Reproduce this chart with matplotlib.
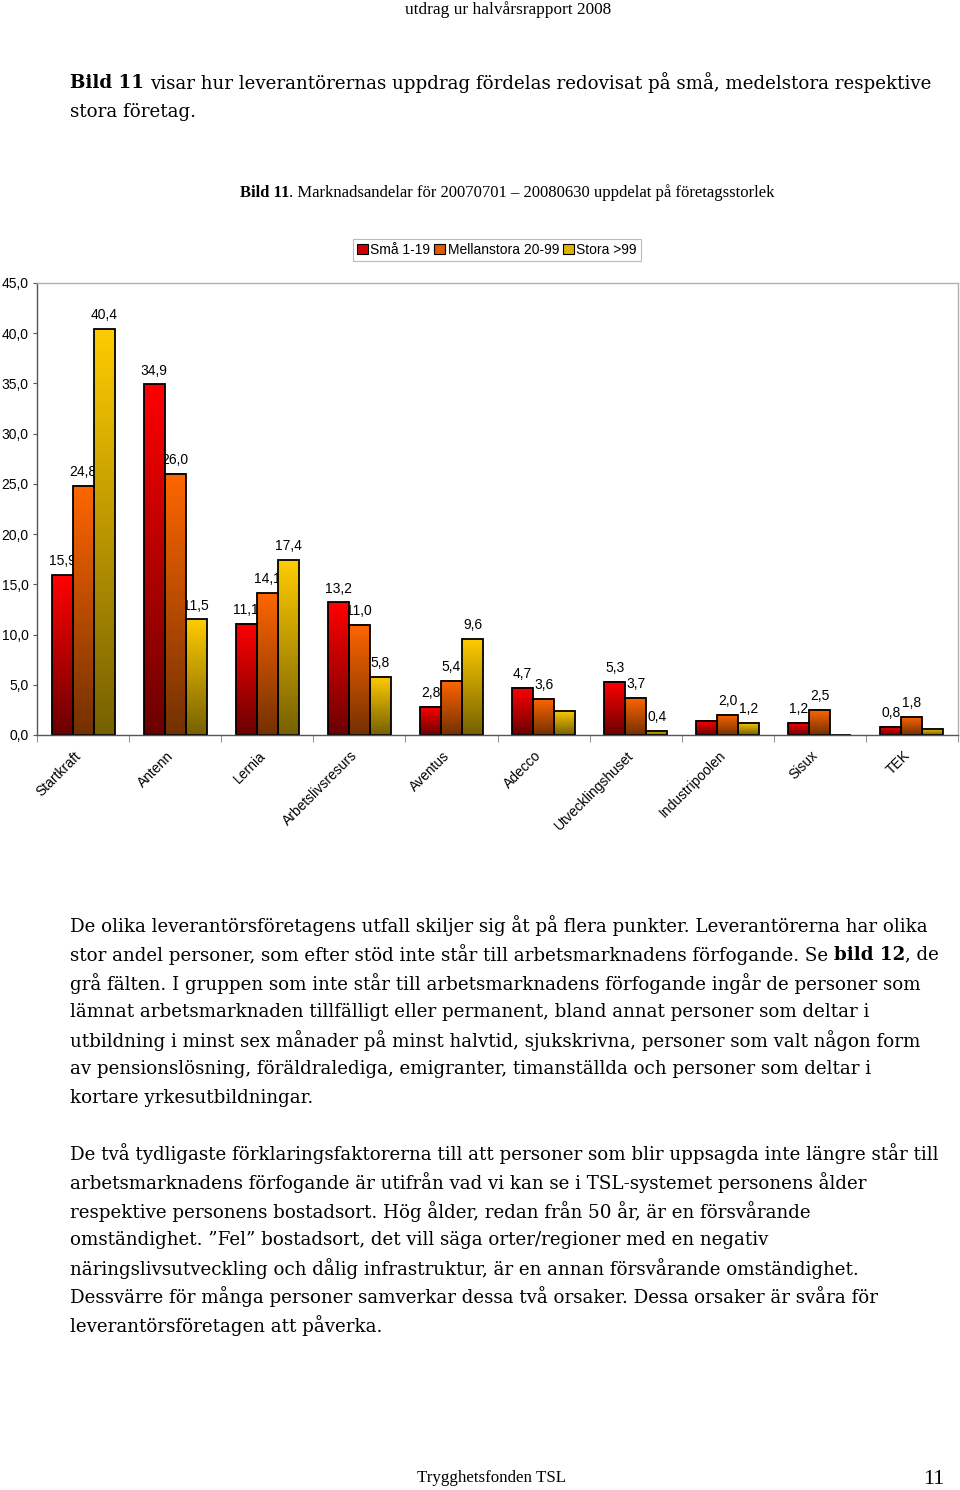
import matplotlib
matplotlib.use('Agg')
import matplotlib.pyplot as plt
import numpy as np
from matplotlib.font_manager import FontProperties
from matplotlib.patches import Rectangle
from matplotlib.colors import LinearSegmentedColormap

# ---------------- data ----------------
categories = ["Startkraft", "Antenn", "Lernia", "Arbetslivsresurs", "Aventus",
              "Adecco", "Utvecklingshuset", "Industripoolen", "Sisux", "TEK"]
series_names = ["Små 1-19", "Mellanstora 20-99", "Stora >99"]
sma = [15.9, 34.9, 11.1, 13.2, 2.8, 4.7, 5.3, 1.4, 1.2, 0.8]
mellan = [24.8, 26.0, 14.1, 11.0, 5.4, 3.6, 3.7, 2.0, 2.5, 1.8]
stora = [40.4, 11.5, 17.4, 5.8, 9.6, 2.4, 0.4, 1.2, 0.0, 0.6]
# which value labels are visible in the original
sma_lab = [1, 1, 1, 1, 1, 1, 1, 0, 1, 1]
mellan_lab = [1, 1, 1, 1, 1, 1, 1, 1, 1, 1]
stora_lab = [1, 1, 1, 1, 1, 0, 1, 1, 0, 0]
yticks = [0, 5, 10, 15, 20, 25, 30, 35, 40, 45]

header = "utdrag ur halvårsrapport 2008"
intro = [[("Bild 11", "bold"), (" visar hur leverantörernas uppdrag fördelas redovisat på små, medelstora respektive", "normal")],
         [("stora företag.", "normal")]]
caption = [("Bild 11", "bold"), (". Marknadsandelar för 20070701 – 20080630 uppdelat på företagsstorlek", "normal")]
para2 = [[("De olika leverantörsföretagens utfall skiljer sig åt på flera punkter. Leverantörerna har olika", "normal")],
         [("stor andel personer, som efter stöd inte står till arbetsmarknadens förfogande. Se ", "normal"), ("bild 12", "bold"), (", de", "normal")],
         [("grå fälten. I gruppen som inte står till arbetsmarknadens förfogande ingår de personer som", "normal")],
         [("lämnat arbetsmarknaden tillfälligt eller permanent, bland annat personer som deltar i", "normal")],
         [("utbildning i minst sex månader på minst halvtid, sjukskrivna, personer som valt någon form", "normal")],
         [("av pensionslösning, föräldralediga, emigranter, timanställda och personer som deltar i", "normal")],
         [("kortare yrkesutbildningar.", "normal")]]
para3 = [[("De två tydligaste förklaringsfaktorerna till att personer som blir uppsagda inte längre står till", "normal")],
         [("arbetsmarknadens förfogande är utifrån vad vi kan se i TSL-systemet personens ålder", "normal")],
         [("respektive personens bostadsort. Hög ålder, redan från 50 år, är en försvårande", "normal")],
         [("omständighet. ”Fel” bostadsort, det vill säga orter/regioner med en negativ", "normal")],
         [("näringslivsutveckling och dålig infrastruktur, är en annan försvårande omständighet.", "normal")],
         [("Dessvärre för många personer samverkar dessa två orsaker. Dessa orsaker är svåra för", "normal")],
         [("leverantörsföretagen att påverka.", "normal")]]
footer = "Trygghetsfonden TSL"
page_no = "11"

# ---------------- figure ----------------
W, H = 960, 1490
fig = plt.figure(figsize=(W / 100, H / 100), dpi=100)
fig.patch.set_facecolor('white')
renderer = fig.canvas.get_renderer()

BODY = 'DejaVu Serif'
SMALL = 'Liberation Serif'
SANS = 'Liberation Sans'
CFS = 10  # chart font size


def text_width(s, size, family, weight='normal'):
    fp = FontProperties(family=family, size=size, weight=weight)
    w1, _, _ = renderer.get_text_width_height_descent('|' + s + '|', fp, ismath=False)
    w2, _, _ = renderer.get_text_width_height_descent('||', fp, ismath=False)
    return w1 - w2


def segs_width(segs, size, family):
    return sum(text_width(s, size, family, w) for s, w in segs)


def fit_size(segs, target, family):
    return 10 * target / segs_width(segs, 10, family)


def draw_segs(x_px, y_px, segs, size, family):
    x = x_px
    for s, wt in segs:
        stripped = s.lstrip(' ')
        lead = len(s) - len(stripped)
        if lead:
            x += text_width(' ' * lead, size, family, wt)
        fig.text(x / W, 1 - y_px / H, stripped, fontsize=size, family=family,
                 fontweight=wt, ha='left', va='center', color='black')
        x += text_width(stripped, size, family, wt)


# header / caption / footer
hs = fit_size([(header, 'normal')], 206, SMALL)
draw_segs(405, 10, [(header, 'normal')], hs, SMALL)
cs = fit_size(caption, 536, SMALL)
draw_segs(240, 193, caption, cs, SMALL)
fs = fit_size([(footer, 'normal')], 148, SMALL)
draw_segs(417, 1478, [(footer, 'normal')], fs, SMALL)
fig.text(944 / W, 1 - 1480 / H, page_no, fontsize=16, family=SMALL, ha='right', va='center')

# body text
bs = fit_size(para3[0], 873, BODY)
for i, line in enumerate(intro):
    draw_segs(70, 83 + i * 28.6, line, bs, BODY)
for i, line in enumerate(para2):
    draw_segs(70, 926 + i * 28.6, line, bs, BODY)
for i, line in enumerate(para3):
    draw_segs(70, 1154 + i * 28.6, line, bs, BODY)

# ---------------- chart ----------------
ax = fig.add_axes([37 / W, 1 - 735 / H, (958 - 37) / W, (735 - 283) / H])
ax.set_facecolor('white')

bright = ['#FF0000', '#FF6600', '#FFCC00']
dark = ['#6A0000', '#733000', '#766000']
data = [sma, mellan, stora]
labs = [sma_lab, mellan_lab, stora_lab]
bw = 0.228
offs = [-bw, 0, bw]
grad = np.linspace(0, 1, 256).reshape(-1, 1)
x = np.arange(len(categories))

for si in range(3):
    cmap = LinearSegmentedColormap.from_list('g%d' % si, [dark[si], bright[si]])
    for ci, v in enumerate(data[si]):
        x0 = x[ci] + offs[si] - bw / 2
        if v > 0:
            ax.imshow(grad, extent=[x0, x0 + bw, 0, v], origin='lower', aspect='auto',
                      cmap=cmap, zorder=2, interpolation='bilinear')
        ax.add_patch(Rectangle((x0, 0), bw, v, facecolor='none', edgecolor='black',
                               linewidth=1.3, zorder=2.5, clip_on=False))
        if labs[si][ci]:
            ax.annotate(('%.1f' % v).replace('.', ','), (x[ci] + offs[si], v),
                        xytext=(0, 10), textcoords='offset points', ha='center',
                        va='center', fontsize=CFS, family=SANS, zorder=1)

ax.set_xlim(-0.5, len(categories) - 0.5)
ax.set_ylim(0, 45)
ax.set_yticks(yticks)
ax.set_yticklabels([('%.1f' % t).replace('.', ',') for t in yticks], fontsize=CFS, family=SANS)
ax.set_xticks(x)
ax.set_xticklabels([])
for xi, name in zip(x, categories):
    ax.annotate(name, (xi, 0), xycoords=('data', 'axes fraction'),
                xytext=(-3, -13.3), textcoords='offset points', rotation=45,
                ha='right', va='center', rotation_mode='anchor',
                fontsize=CFS, family=SANS, annotation_clip=False)
ax.set_xticks(np.arange(-0.5, len(categories), 1.0), minor=True)
ax.tick_params(axis='x', which='major', length=0)
ax.tick_params(axis='x', which='minor', length=5, width=0.8, color='#999999')
ax.tick_params(axis='y', length=3, width=0.8, color='#555555', pad=3)
for side in ['left', 'bottom']:
    ax.spines[side].set_color('#555555')
    ax.spines[side].set_linewidth(1.0)
for side in ['top', 'right']:
    ax.spines[side].set_color('#B0B0B0')
    ax.spines[side].set_linewidth(1.0)

handles = [Rectangle((0, 0), 1, 1, facecolor=c, edgecolor='black', linewidth=0.8)
           for c in ['#D00000', '#E05A00', '#E0B400']]
leg = fig.legend(handles, series_names, loc='center', bbox_to_anchor=(497 / W, 1 - 250 / H),
                 ncol=3, frameon=True, fancybox=False, edgecolor='#AAAAAA',
                 prop=FontProperties(family=SANS, size=CFS), handlelength=0.75,
                 handleheight=0.75, handletextpad=0.2, columnspacing=0.3,
                 borderpad=0.3, borderaxespad=0)
leg.get_frame().set_linewidth(0.8)

fig.savefig('out.png', dpi=100, facecolor='white')
